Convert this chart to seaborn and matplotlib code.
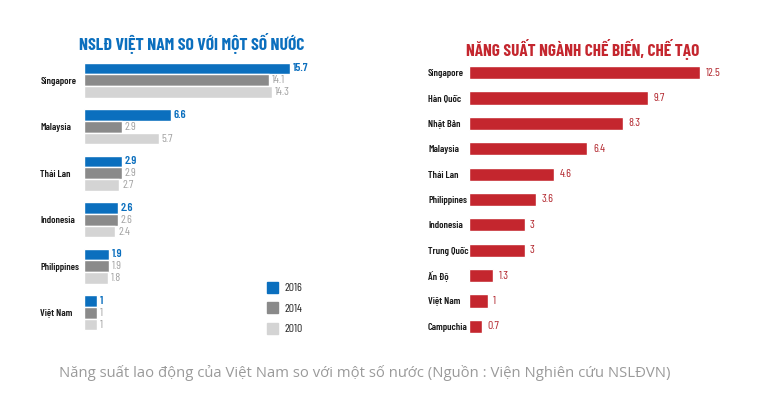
import numpy as np
import matplotlib.pyplot as plt
import seaborn as sns
import pandas as pd
from matplotlib.patches import Patch

sns.set_theme(style="white")
plt.rcParams["font.family"] = ["Barlow Condensed", "Roboto Condensed", "DejaVu Sans"]

# left chart: labour productivity vs Vietnam
countries = ["Singapore", "Malaysia", "Thái Lan", "Indonesia", "Philippines", "Việt Nam"]
years = ["2016", "2014", "2010"]
v2016 = [15.7, 6.6, 2.9, 2.6, 1.9, 1]
v2014 = [14.1, 2.9, 2.9, 2.6, 1.9, 1]
v2010 = [14.3, 5.7, 2.7, 2.4, 1.8, 1]

# right chart: manufacturing productivity
mfg_countries = ["Singapore", "Hàn Quốc", "Nhật Bản", "Malaysia", "Thái Lan", "Philippines",
                 "Indonesia", "Trung Quốc", "Ấn Độ", "Việt Nam", "Campuchia"]
mfg_values = [12.5, 9.7, 8.3, 6.4, 4.6, 3.6, 3, 3, 1.3, 1, 0.7]

blue = "#0b6fbe"
palette = {"2016": blue, "2014": "#8a8a8a", "2010": "#d4d4d4"}
red = "#c4262e"

df = pd.DataFrame({"Country": countries * 3,
                   "Year": [y for y in years for _ in countries],
                   "Value": v2016 + v2014 + v2010})
df_mfg = pd.DataFrame({"Country": mfg_countries, "Value": mfg_values})

W, H = 760, 405
fig = plt.figure(figsize=(7.6, 4.05), dpi=100)

#%% left
ax1 = fig.add_axes([84 / W, 1 - 336 / H, (372 - 84) / W, (336 - 57) / H])
sns.barplot(df, y="Country", x="Value", hue="Year", hue_order=years,
            palette=palette, width=0.76, orient="h", ax=ax1, legend=False,
            saturation=1)
ax1.set_xlim(0, 21.95)
for cont, yr in zip(ax1.containers, years):
    ax1.bar_label(cont, fmt="%g", padding=2, fontsize=8.5,
                  color=blue if yr == "2016" else "#a3a3a3",
                  fontweight="semibold" if yr == "2016" else "normal")

#%% right
ax2 = fig.add_axes([469 / W, 1 - 339 / H, (746 - 469) / W, (339 - 60) / H])
sns.barplot(df_mfg, y="Country", x="Value", color=red, width=0.52,
            orient="h", ax=ax2, saturation=1)
ax2.set_xlim(0, 14.97)
ax2.bar_label(ax2.containers[0], fmt="%g", padding=4, fontsize=8.5, color="#b3282f")

for ax, pad in [(ax1, 31.5), (ax2, 29.5)]:
    ax.set_xlabel("")
    ax.set_ylabel("")
    ax.set_xticks([])
    sns.despine(ax=ax, left=True, bottom=True)
    ax.tick_params(axis="y", length=0, pad=pad, labelsize=7.3)
    for lab in ax.get_yticklabels():
        lab.set_horizontalalignment("left")
        lab.set_fontweight("semibold")
        lab.set_color("#1a1a1a")

handles = [Patch(color=palette[y]) for y in years]
fig.legend(handles, years, loc="upper left", bbox_to_anchor=(261 / W, 1 - 276 / H),
           frameon=False, fontsize=8.5, handlelength=0.95, handleheight=1.05,
           labelspacing=0.75, handletextpad=0.5, borderpad=0)

fig.text(192 / W, 1 - 44 / H, "NSLĐ VIỆT NAM SO VỚI MỘT SỐ NƯỚC", color=blue,
         fontsize=12.6, fontweight="bold", ha="center", va="center")
fig.text(583 / W, 1 - 50 / H, "NĂNG SUẤT NGÀNH CHẾ BIẾN, CHẾ TẠO", color=red,
         fontsize=12.4, fontweight="bold", ha="center", va="center")
fig.text(365 / W, 1 - 373 / H,
         "Năng suất lao động của Việt Nam so với một số nước (Nguồn : Viện Nghiên cứu NSLĐVN)",
         color="#9a9a9a", fontsize=10.7, ha="center", va="center",
         family=["Open Sans", "DejaVu Sans"])

fig.savefig("out.png", dpi=100)
